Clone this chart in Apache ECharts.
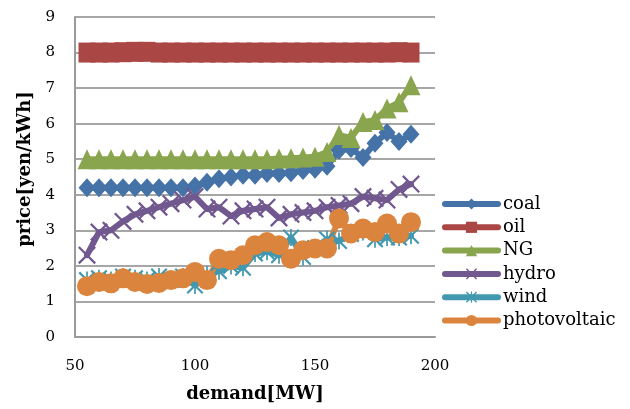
<!DOCTYPE html>
<html>
<head>
<meta charset="utf-8">
<script src="https://cdn.jsdelivr.net/npm/echarts@6/dist/echarts.min.js"></script>
<style>
  html, body { margin: 0; padding: 0; background: #fff; }
  #chart { width: 630px; height: 409px; }
</style>
</head>
<body>
<div id="chart"></div>
<script>
// Demand levels (MW)
const demand = [55, 60, 65, 70, 75, 80, 85, 90, 95, 100, 105, 110, 115, 120, 125, 130,
                135, 140, 145, 150, 155, 160, 165, 170, 175, 180, 185, 190];

// Price per source (yen/kWh)
const coal = [4.2, 4.2, 4.2, 4.2, 4.2, 4.2, 4.2, 4.2, 4.2, 4.25, 4.35, 4.45, 4.5, 4.55, 4.55, 4.6,
              4.6, 4.62, 4.68, 4.72, 4.8, 5.25, 5.3, 5.05, 5.45, 5.75, 5.5, 5.7];
const oil = [8.0, 8.0, 8.0, 8.01, 8.02, 8.02, 8.0, 8.0, 8.0, 8.0, 8.0, 8.0, 8.0, 8.0, 8.0, 8.0,
             8.0, 8.0, 8.0, 8.0, 8.0, 8.0, 8.0, 8.0, 8.0, 8.0, 8.01, 8.0];
const ng = [5.0, 5.0, 5.0, 5.0, 5.0, 5.0, 5.0, 5.0, 5.0, 5.0, 5.0, 5.0, 5.0, 5.0, 5.0, 5.0,
            5.02, 5.03, 5.05, 5.07, 5.2, 5.68, 5.6, 6.05, 6.1, 6.43, 6.6, 7.08];
const hydro = [2.3, 2.95, 3.0, 3.25, 3.45, 3.55, 3.65, 3.75, 3.85, 3.95, 3.6, 3.65, 3.4, 3.55, 3.6, 3.65,
               3.35, 3.45, 3.5, 3.55, 3.65, 3.7, 3.75, 3.95, 3.9, 3.85, 4.15, 4.3];
const wind = [1.6, 1.65, 1.6, 1.7, 1.65, 1.6, 1.7, 1.6, 1.7, 1.45, 1.75, 1.85, 2.0, 1.95, 2.35, 2.4,
              2.3, 2.8, 2.25, 2.5, 2.75, 2.7, 2.9, 2.95, 2.75, 2.8, 2.8, 2.85];
const photovoltaic = [1.43, 1.55, 1.51, 1.65, 1.55, 1.49, 1.52, 1.6, 1.65, 1.83, 1.6, 2.2, 2.16, 2.3, 2.58, 2.67,
                      2.58, 2.2, 2.44, 2.49, 2.49, 3.33, 2.91, 3.05, 2.95, 3.19, 2.91, 3.23];

const yTicks = [0, 1, 2, 3, 4, 5, 6, 7, 8, 9];
const xTicks = [50, 100, 150, 200];

const FONT = 'DejaVu Serif';

// Marker shapes: a thin "x" and an asterisk
const crossPath = 'path://M0,0.9 L0.9,0 L10,9.1 L9.1,10 Z M9.1,0 L10,0.9 L0.9,10 L0,9.1 Z';
const starPath = 'path://M0,0.9 L0.9,0 L10,9.1 L9.1,10 Z M9.1,0 L10,0.9 L0.9,10 L0,9.1 Z M4.5,0 L5.5,0 L5.5,10 L4.5,10 Z';

function pairs(values) {
  return demand.map((d, i) => [d, values[i]]);
}

function lineSeries(name, values, color, symbol, size) {
  return {
    name: name,
    type: 'line',
    data: pairs(values),
    symbol: symbol,
    symbolSize: size,
    showAllSymbol: true,
    lineStyle: { color: color, width: 6, cap: 'round', join: 'round' },
    itemStyle: { color: color, opacity: 1, borderWidth: 0 },
    emphasis: { disabled: true },
    animation: false
  };
}

const chart = echarts.init(document.getElementById('chart'));
chart.setOption({
  backgroundColor: '#ffffff',
  animation: false,
  grid: { left: 75, right: 195, top: 17, bottom: 72 },
  xAxis: {
    type: 'value',
    min: xTicks[0],
    max: xTicks[xTicks.length - 1],
    interval: 50,
    name: 'demand[MW]',
    nameLocation: 'middle',
    nameGap: 48,
    nameTextStyle: { fontFamily: FONT, fontWeight: 'bold', fontSize: 18, color: '#000' },
    axisLine: { lineStyle: { color: '#9a9a9a', width: 2 } },
    axisTick: { show: false },
    splitLine: { show: false },
    axisLabel: { fontFamily: FONT, fontSize: 15, color: '#000', margin: 22 }
  },
  yAxis: {
    type: 'value',
    min: yTicks[0],
    max: yTicks[yTicks.length - 1],
    interval: 1,
    name: 'price[yen/kWh]',
    nameLocation: 'middle',
    nameGap: 40,
    nameTextStyle: { fontFamily: FONT, fontWeight: 'bold', fontSize: 18, color: '#000', padding: [0, 0, 0, 16] },
    axisLine: { show: true, lineStyle: { color: '#9a9a9a', width: 2 } },
    axisTick: { show: false },
    splitLine: { lineStyle: { color: '#a6a6a6', width: 2 } },
    axisLabel: { fontFamily: FONT, fontSize: 15, color: '#000', margin: 20 }
  },
  legend: {
    orient: 'vertical',
    left: 437,
    top: 190,
    itemWidth: 53,
    itemHeight: 14,
    itemGap: 5.3,
    lineStyle: { width: 6, cap: 'round' },
    textStyle: { fontFamily: FONT, fontSize: 18, color: '#000' },
    data: ['coal', 'oil', 'NG', 'hydro', 'wind', 'photovoltaic']
  },
  series: [
    lineSeries('coal', coal, '#4572a7', 'diamond', [17, 19]),
    lineSeries('oil', oil, '#aa4643', 'rect', [17, 20]),
    lineSeries('NG', ng, '#89a54e', 'triangle', [19, 20]),
    lineSeries('hydro', hydro, '#71588f', crossPath, 18),
    lineSeries('wind', wind, '#4198af', starPath, 17),
    lineSeries('photovoltaic', photovoltaic, '#db843d', 'circle', 20)
  ]
});
</script>
</body>
</html>
